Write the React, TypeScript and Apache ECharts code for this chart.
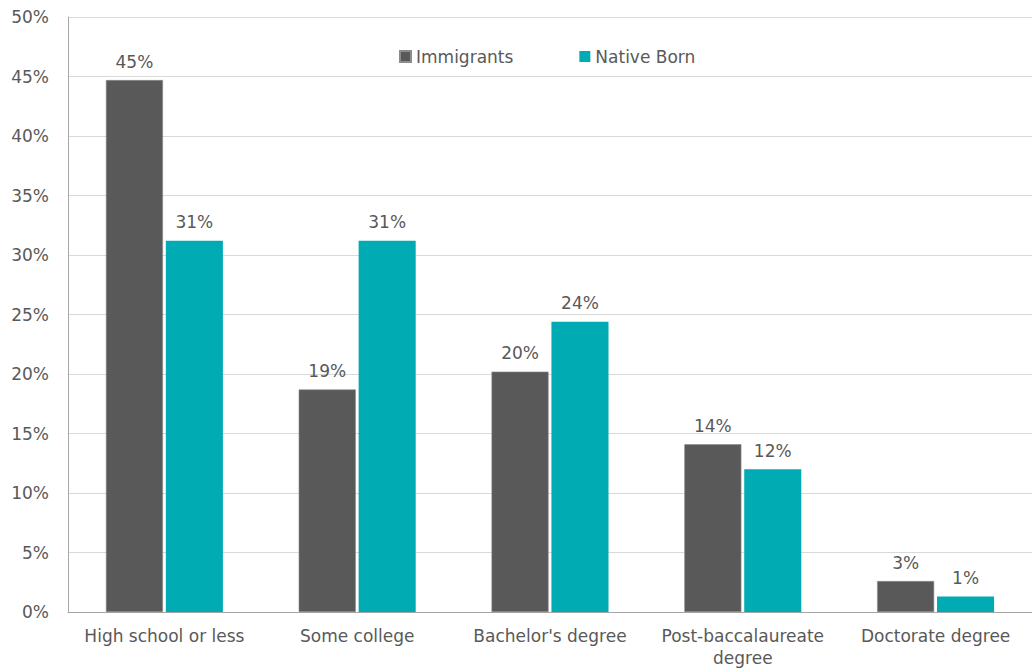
import React, { useEffect, useRef } from "react";
import * as echarts from "echarts";

const categories = [
  "High school or less",
  "Some college",
  "Bachelor's degree",
  "Post-baccalaureate\ndegree",
  "Doctorate degree",
];
const immigrants = [44.7, 18.7, 20.2, 14.1, 2.6];
const nativeBorn = [31.2, 31.2, 24.4, 12.0, 1.3];
const seriesNames = ["Immigrants", "Native Born"];

const FONT = "'DejaVu Sans', 'Liberation Sans', Arial, sans-serif";
const TEXT = "#595959";

export default function App() {
  const ref = useRef<HTMLDivElement>(null);
  useEffect(() => {
    if (!ref.current) return;
    const chart = echarts.init(ref.current, null, { renderer: "svg" });
    const label = {
      show: true,
      position: "top" as const,
      distance: 10,
      color: TEXT,
      fontSize: 17,
      fontFamily: FONT,
      formatter: (p: any) => Math.round(p.value) + "%",
    };
    chart.setOption({
      animation: false,
      textStyle: { fontFamily: FONT },
      grid: {
        left: 68,
        right: 0,
        top: 17,
        bottom: 58,
        containLabel: false,
        outerBoundsMode: "none",
      },
      legend: {
        top: 43,
        left: 394,
        itemWidth: 11,
        itemHeight: 11,
        itemGap: 66,
        icon: "rect",
        textStyle: { color: TEXT, fontSize: 17, fontFamily: FONT },
        data: seriesNames,
      },
      xAxis: {
        type: "category",
        data: categories,
        axisLine: { lineStyle: { color: "#a6a6a6", width: 1 } },
        axisTick: { show: false },
        axisLabel: {
          color: TEXT,
          fontSize: 17,
          fontFamily: FONT,
          margin: 13,
          lineHeight: 22,
          interval: 0,
        },
      },
      yAxis: {
        type: "value",
        min: 0,
        max: 50,
        interval: 5,
        axisLine: { show: true, lineStyle: { color: "#a6a6a6", width: 1 } },
        axisTick: { show: false },
        splitLine: { lineStyle: { color: "#d9d9d9", width: 1 } },
        axisLabel: {
          color: TEXT,
          fontSize: 17,
          fontFamily: FONT,
          margin: 19,
          formatter: (v: number) => v + "%",
        },
      },
      series: [
        {
          name: seriesNames[0],
          type: "bar",
          data: immigrants,
          barWidth: "29.6%",
          barGap: "5%",
          itemStyle: { color: "#595959", borderColor: "#8c8c8c", borderWidth: 0.6 },
          label,
        },
        {
          name: seriesNames[1],
          type: "bar",
          data: nativeBorn,
          barWidth: "29.6%",
          itemStyle: { color: "#00abb3" },
          label,
        },
      ],
    });
    return () => chart.dispose();
  }, []);
  return (
    <div
      ref={ref}
      style={{ position: "fixed", left: 0, top: 0, width: 1032, height: 670, background: "#fff" }}
    />
  );
}
